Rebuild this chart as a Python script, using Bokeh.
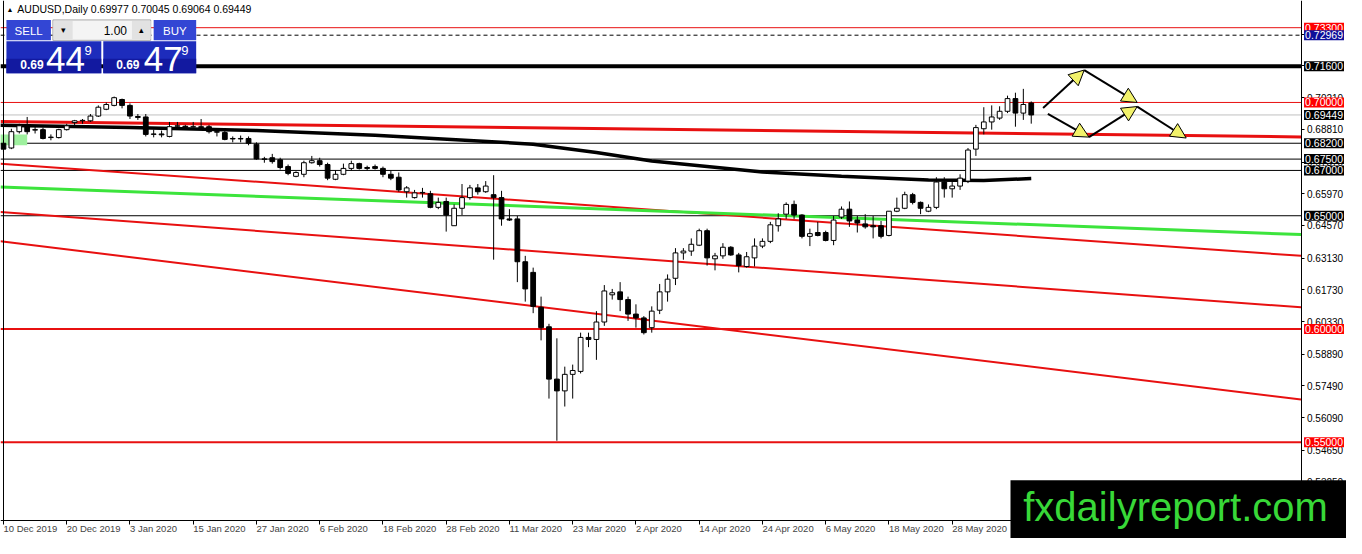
from bokeh.plotting import figure
from bokeh.models import (FixedTicker, PrintfTickFormatter, Label, BoxAnnotation, Arrow, NormalHead,
                          ColumnDataSource, LinearAxis)
from bokeh.embed import file_html
from bokeh.resources import INLINE

# AUDUSD daily candles, bar 0 = 10 Dec 2019
opens = [0.6820, 0.6799, 0.6871, 0.6897, 0.6880, 0.6880, 0.6845, 0.6845, 0.6880, 0.6911,
         0.6919, 0.6919, 0.6940, 0.6970, 0.6987, 0.7013, 0.6987, 0.6938, 0.6936, 0.6859,
         0.6861, 0.6850, 0.6895, 0.6895, 0.6891, 0.6893, 0.6893, 0.6871, 0.6867, 0.6841,
         0.6839, 0.6841, 0.6816, 0.6751, 0.6756, 0.6747, 0.6717, 0.6674, 0.6683, 0.6734,
         0.6743, 0.6726, 0.6661, 0.6683, 0.6709, 0.6730, 0.6713, 0.6717, 0.6709, 0.6683,
         0.6670, 0.6606, 0.6580, 0.6601, 0.6597, 0.6537, 0.6563, 0.6456, 0.6533, 0.6580,
         0.6623, 0.6606, 0.6593, 0.6580, 0.6486, 0.6486, 0.6297, 0.6250, 0.6096, 0.6010,
         0.5779, 0.5727, 0.5800, 0.5813, 0.5963, 0.5954, 0.6031, 0.6151, 0.6164, 0.6130,
         0.6066, 0.6049, 0.6006, 0.6083, 0.6164, 0.6224, 0.6336, 0.6344, 0.6370, 0.6434,
         0.6310, 0.6323, 0.6361, 0.6327, 0.6276, 0.6314, 0.6366, 0.6387, 0.6456, 0.6507,
         0.6550, 0.6503, 0.6409, 0.6426, 0.6426, 0.6391, 0.6494, 0.6529, 0.6481, 0.6464,
         0.6456, 0.6456, 0.6413, 0.6520, 0.6533, 0.6593, 0.6559, 0.6520, 0.6537, 0.6649,
         0.6619, 0.6631, 0.6653, 0.6794, 0.6884, 0.6914, 0.6931, 0.6961, 0.7017, 0.6953,
         0.69977]
highs = [0.6829, 0.6884, 0.6906, 0.6936, 0.6897, 0.6889, 0.6859, 0.6884, 0.6906, 0.6923,
         0.6927, 0.6949, 0.6987, 0.7000, 0.7026, 0.7017, 0.6996, 0.6949, 0.6949, 0.6880,
         0.6876, 0.6914, 0.6914, 0.6901, 0.6914, 0.6927, 0.6901, 0.6884, 0.6876, 0.6850,
         0.6854, 0.6850, 0.6824, 0.6760, 0.6773, 0.6756, 0.6726, 0.6696, 0.6743, 0.6764,
         0.6756, 0.6734, 0.6700, 0.6730, 0.6743, 0.6734, 0.6721, 0.6726, 0.6717, 0.6700,
         0.6691, 0.6631, 0.6614, 0.6623, 0.6610, 0.6580, 0.6580, 0.6550, 0.6640, 0.6636,
         0.6640, 0.6653, 0.6679, 0.6610, 0.6529, 0.6499, 0.6323, 0.6271, 0.6143, 0.6023,
         0.5959, 0.5834, 0.5843, 0.5984, 0.5984, 0.6079, 0.6194, 0.6177, 0.6207, 0.6143,
         0.6109, 0.6057, 0.6100, 0.6199, 0.6241, 0.6357, 0.6357, 0.6400, 0.6443, 0.6443,
         0.6336, 0.6379, 0.6366, 0.6336, 0.6340, 0.6400, 0.6400, 0.6473, 0.6511, 0.6559,
         0.6567, 0.6507, 0.6443, 0.6473, 0.6434, 0.6499, 0.6541, 0.6563, 0.6499, 0.6507,
         0.6499, 0.6477, 0.6520, 0.6580, 0.6606, 0.6601, 0.6563, 0.6550, 0.6670, 0.6670,
         0.6649, 0.6683, 0.6799, 0.6901, 0.6979, 0.6987, 0.6983, 0.7030, 0.7043, 0.7060,
         0.70045]
lows = [0.6781, 0.6794, 0.6863, 0.6859, 0.6863, 0.6837, 0.6833, 0.6841, 0.6876, 0.6893,
        0.6906, 0.6914, 0.6936, 0.6966, 0.6983, 0.6974, 0.6927, 0.6923, 0.6850, 0.6846,
        0.6846, 0.6846, 0.6884, 0.6880, 0.6880, 0.6884, 0.6863, 0.6850, 0.6833, 0.6824,
        0.6824, 0.6811, 0.6747, 0.6734, 0.6730, 0.6704, 0.6679, 0.6670, 0.6670, 0.6730,
        0.6717, 0.6657, 0.6657, 0.6679, 0.6700, 0.6704, 0.6700, 0.6704, 0.6670, 0.6657,
        0.6606, 0.6580, 0.6576, 0.6580, 0.6533, 0.6529, 0.6430, 0.6456, 0.6503, 0.6571,
        0.6593, 0.6601, 0.6306, 0.6456, 0.6477, 0.6207, 0.6121, 0.6070, 0.5950, 0.5693,
        0.5507, 0.5658, 0.5693, 0.5804, 0.5920, 0.5864, 0.6014, 0.6130, 0.6079, 0.6036,
        0.6006, 0.5976, 0.5984, 0.6066, 0.6121, 0.6194, 0.6306, 0.6323, 0.6366, 0.6280,
        0.6259, 0.6310, 0.6323, 0.6250, 0.6271, 0.6276, 0.6357, 0.6379, 0.6430, 0.6486,
        0.6486, 0.6400, 0.6366, 0.6409, 0.6387, 0.6370, 0.6486, 0.6451, 0.6426, 0.6443,
        0.6400, 0.6400, 0.6409, 0.6516, 0.6529, 0.6550, 0.6507, 0.6516, 0.6529, 0.6580,
        0.6580, 0.6614, 0.6644, 0.6764, 0.6859, 0.6880, 0.6923, 0.6953, 0.6893, 0.6923,
        0.69064]
closes = [0.6794, 0.6871, 0.6897, 0.6871, 0.6878, 0.6841, 0.6847, 0.6880, 0.6897, 0.6919,
          0.6921, 0.6940, 0.6979, 0.6991, 0.7021, 0.6987, 0.6940, 0.6934, 0.6859, 0.6861,
          0.6857, 0.6893, 0.6897, 0.6891, 0.6893, 0.6889, 0.6871, 0.6869, 0.6837, 0.6839,
          0.6841, 0.6820, 0.6751, 0.6749, 0.6739, 0.6713, 0.6687, 0.6691, 0.6734, 0.6743,
          0.6726, 0.6666, 0.6683, 0.6709, 0.6730, 0.6709, 0.6709, 0.6709, 0.6683, 0.6666,
          0.6614, 0.6623, 0.6601, 0.6603, 0.6537, 0.6559, 0.6503, 0.6533, 0.6580, 0.6623,
          0.6606, 0.6631, 0.6580, 0.6486, 0.6481, 0.6297, 0.6177, 0.6100, 0.6006, 0.5779,
          0.5727, 0.5800, 0.5817, 0.5963, 0.5954, 0.6031, 0.6168, 0.6160, 0.6130, 0.6066,
          0.6049, 0.5984, 0.6079, 0.6164, 0.6220, 0.6336, 0.6344, 0.6374, 0.6434, 0.6314,
          0.6323, 0.6361, 0.6327, 0.6280, 0.6319, 0.6366, 0.6387, 0.6460, 0.6486, 0.6550,
          0.6503, 0.6409, 0.6421, 0.6413, 0.6391, 0.6481, 0.6529, 0.6477, 0.6468, 0.6451,
          0.6451, 0.6409, 0.6520, 0.6533, 0.6593, 0.6559, 0.6533, 0.6537, 0.6649, 0.6619,
          0.6631, 0.6666, 0.6790, 0.6889, 0.6914, 0.6936, 0.6961, 0.7017, 0.6953, 0.6991,
          0.69449]

date_ticks = [0, 8, 16, 24, 32, 40, 48, 56, 64, 72, 80, 88, 96, 104, 112, 120]
date_labels = ["10 Dec 2019", "20 Dec 2019", "3 Jan 2020", "15 Jan 2020", "27 Jan 2020",
               "6 Feb 2020", "18 Feb 2020", "28 Feb 2020", "11 Mar 2020", "23 Mar 2020",
               "2 Apr 2020", "14 Apr 2020", "24 Apr 2020", "6 May 2020", "18 May 2020",
               "28 May 2020"]

price_ticks = [0.5325, 0.5465, 0.5609, 0.5749, 0.5889, 0.6033, 0.6173, 0.6313, 0.6457,
               0.6597, 0.6737, 0.6881, 0.7021, 0.7161, 0.7301]

# horizontal levels and their axis tags
level_prices = [0.7330, 0.72969, 0.7160, 0.7000, 0.69449, 0.6820, 0.6750, 0.6700, 0.6500, 0.6000, 0.5500]
level_kind = ["red", "ask", "major", "red", "bid", "black", "black", "black", "black", "redthick", "redthick"]

# trend lines: price at the left edge and at the price axis
trend_red_top = [0.6916, 0.6848]
trend_red_1 = [0.6730, 0.6323]
trend_green = [0.6627, 0.6417]
trend_red_2 = [0.6516, 0.6096]
trend_red_3 = [0.6387, 0.5689]

# 200-day moving average traced
ma_bars = [-0.4, 16, 32, 47, 67, 75, 82, 96, 106, 117, 124, 130]
ma_vals = [0.6899, 0.6889, 0.6876, 0.6855, 0.6816, 0.6779, 0.6742, 0.6693, 0.6674, 0.6658, 0.6656, 0.6664]

# projected path arrows (bar, price)
arrow_from = [(131.5, 0.6976), (136.7, 0.7143), (132.1, 0.6950), (137.3, 0.6847), (143.4, 0.6982)]
arrow_to = [(136.7, 0.7143), (143.4, 0.7000), (137.3, 0.6847), (143.4, 0.6982), (149.6, 0.6843)]

# whole canvas in data units: 8 px per bar, price axis at bar 164.125, time axis at 0.5157
XA, XB = -0.375, 169.875
YB, YT = 0.50755, 0.745
AX_X = 164.125
AX_Y = 0.5157
FONT = "Liberation Sans"
RED = "#e81010"

p = figure(width=1346, height=538, x_range=(XA, XB), y_range=(YB, YT),
           x_axis_location=None, y_axis_location=None, toolbar_location=None,
           output_backend="svg", min_border=0)
p.xgrid.visible = False
p.ygrid.visible = False
p.outline_line_color = None
p.background_fill_color = "white"
p.border_fill_color = "white"

yax = LinearAxis(fixed_location=AX_X, bounds=(AX_Y, YT), ticker=FixedTicker(ticks=price_ticks),
                 formatter=PrintfTickFormatter(format="%.5f"))
yax.major_label_text_font = FONT
yax.major_label_text_font_size = "10px"
yax.major_label_text_color = "black"
yax.major_tick_out = 3
yax.major_tick_in = 0
yax.minor_tick_out = 0
yax.major_label_standoff = 3
yax.axis_line_color = "black"
p.add_layout(yax, "right")

xax = LinearAxis(fixed_location=AX_Y, bounds=(XA, AX_X), ticker=FixedTicker(ticks=date_ticks),
                 major_label_overrides=dict(zip(date_ticks, date_labels)))
xax.major_label_text_font = FONT
xax.major_label_text_font_size = "9.5px"
xax.major_label_orientation = -0.0001
xax.major_tick_out = 4
xax.major_tick_in = 0
xax.minor_tick_out = 0
xax.major_label_standoff = 4
xax.axis_line_color = "black"
p.add_layout(xax, "below")

# left border of the chart window
lax = LinearAxis(fixed_location=0, bounds=(AX_Y, YT), ticker=FixedTicker(ticks=[]))
lax.axis_line_color = "black"
p.add_layout(lax, "left")


def dx(px):
    return XA + px / 1362 * (XB - XA)


def dy(py):
    return YT - py / 554 * (YT - YB)


def box(l, t, r, b, color, line=None, level="annotation"):
    p.add_layout(BoxAnnotation(left=dx(l), right=dx(r), top=dy(t), bottom=dy(b),
                               fill_color=color, fill_alpha=1,
                               line_color=line if line else color, line_alpha=1 if line else 0,
                               level=level))


def text(x, y, s, size, color="black", align="left", style="normal"):
    p.add_layout(Label(x=dx(x), y=dy(y), text=s, text_font=FONT, text_font_size=size,
                       text_color=color, text_align=align, text_baseline="middle",
                       text_font_style=style))


# light green marker box
p.add_layout(BoxAnnotation(left=-0.4, right=3.0, top=0.6859, bottom=0.6811,
                           fill_color="#9ef09e", fill_alpha=1, line_alpha=0, level="underlay"))

# level lines
styles = {"red": (RED, 1, "solid", "#ff0000"), "ask": ("black", 1, "4 3", "#10109a"),
          "major": ("black", 4, "solid", "black"), "bid": ("#c0c0c0", 1, "solid", "black"),
          "black": ("black", 1, "solid", "black"), "redthick": (RED, 2, "solid", "#ff0000")}
for lv, kind in zip(level_prices, level_kind):
    col, w, dash, _ = styles[kind]
    p.line([XA, AX_X], [lv, lv], line_color=col, line_width=w, line_dash=dash, level="underlay")

# trend lines and moving average
ends = [XA, AX_X]
p.line(ends, trend_red_top, line_color=RED, line_width=3)
p.line(ends, trend_red_1, line_color=RED, line_width=2)
p.line(ends, trend_green, line_color="#3ce43c", line_width=3)
p.line(ends, trend_red_2, line_color=RED, line_width=2)
p.line(ends, trend_red_3, line_color=RED, line_width=2)
p.line(ma_bars, ma_vals, line_color="black", line_width=3.5)

# candles
idx = list(range(len(opens)))
src = ColumnDataSource(dict(
    x=idx, h=highs, l=lows,
    top=[max(o, c) for o, c in zip(opens, closes)],
    bot=[min(o, c) for o, c in zip(opens, closes)],
    fill=["white" if c >= o else "black" for o, c in zip(opens, closes)],
))
p.segment(x0="x", y0="h", x1="x", y1="l", source=src, line_color="black", line_width=1)
p.vbar(x="x", width=0.6, top="top", bottom="bot", fill_color="fill", line_color="black",
       line_width=1, source=src)

# arrows
for (xa, ya), (xb, yb) in zip(arrow_from, arrow_to):
    p.add_layout(Arrow(x_start=xa, y_start=ya, x_end=xb, y_end=yb, line_color="black", line_width=2,
                       end=NormalHead(size=15, fill_color="#f2f26a", line_color="black", line_width=1)))

# level tags on the price axis
for lv, kind in zip(level_prices, level_kind):
    bg = styles[kind][3]
    p.add_layout(Label(x=AX_X, y=lv, x_offset=3, text="%.5f" % lv, text_font=FONT,
                       text_font_size="10.5px", text_color="white", text_baseline="middle",
                       background_fill_color=bg, background_fill_alpha=1, padding=1))

# chart header
text(6, 9, "\u25b2", "7px")
text(17, 9, "AUDUSD,Daily  0.69977 0.70045 0.69064 0.69449", "10.5px")

# one-click trading panel
box(6, 20, 51, 41, "#3346d4")
box(155, 20, 198, 41, "#3346d4")
box(53, 20, 152, 41, "#f4f4f4", line="#a8a8a8")
box(54, 21, 73, 40, "#e2e2e2")
box(133, 21, 152, 40, "#e2e2e2")
box(6, 42, 102, 75, "#1d2cbc")
box(104, 42, 198, 75, "#1d2cbc")
box(6, 60, 102, 75, "#1219a0")
box(104, 60, 198, 75, "#1219a0")
text(28.5, 31, "SELL", "11.5px", "white", "center")
text(176.5, 31, "BUY", "11.5px", "white", "center")
text(63.5, 30, "\u25be", "9px", "black", "center")
text(142.5, 30, "\u25b4", "9px", "black", "center")
text(128, 31, "1.00", "12px", "black", "right")
text(20, 65.5, "0.69", "12px", "white", "left", "bold")
text(46, 60, "44", "35px", "white", "left")
text(85, 51.5, "9", "13px", "white", "left")
text(117, 65.5, "0.69", "12px", "white", "left", "bold")
text(145, 60, "47", "35px", "white", "left")
text(183, 51.5, "9", "13px", "white", "left")

# watermark
p.add_layout(BoxAnnotation(left=dx(1022), right=XB + 1, top=dy(494), bottom=YB - 0.01,
                           fill_color="black", fill_alpha=1, line_alpha=0, level="overlay"))
p.add_layout(Label(x=dx(1189), y=dy(522), text="fxdailyreport.com", text_font=FONT,
                   text_font_size="40px", text_color="#38d838", text_align="center",
                   text_baseline="middle", level="overlay"))

open("out.html", "w").write(file_html(p, INLINE))
